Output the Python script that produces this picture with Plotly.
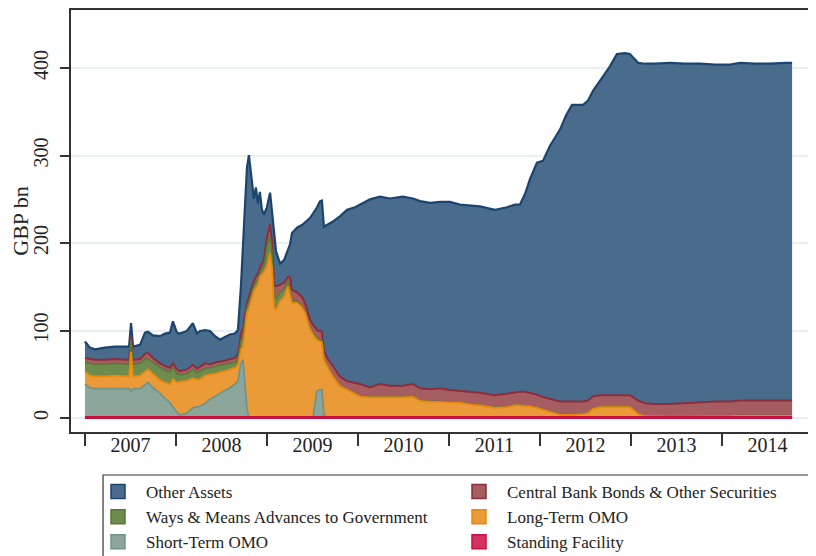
import numpy as np
import plotly.graph_objects as go

dates = [
    "2007-01-01", "2007-01-21", "2007-02-10", "2007-03-22", "2007-05-01", "2007-06-11", "2007-06-27",
    "2007-07-05", "2007-07-13", "2007-08-10", "2007-08-30", "2007-09-11", "2007-10-01", "2007-10-29",
    "2007-11-18", "2007-12-08", "2007-12-20", "2008-01-05", "2008-01-17", "2008-02-14", "2008-03-09",
    "2008-03-26", "2008-04-07", "2008-04-27", "2008-05-17", "2008-06-06", "2008-06-26", "2008-07-16",
    "2008-08-05", "2008-08-25", "2008-09-06", "2008-09-18", "2008-09-26", "2008-10-04", "2008-10-12",
    "2008-10-20", "2008-11-01", "2008-11-09", "2008-11-17", "2008-11-25", "2008-12-03", "2008-12-11",
    "2008-12-19", "2008-12-31", "2009-01-13", "2009-01-21", "2009-01-29", "2009-02-06", "2009-02-22",
    "2009-03-10", "2009-03-26", "2009-04-03", "2009-04-11", "2009-05-01", "2009-05-21", "2009-06-02",
    "2009-06-22", "2009-07-04", "2009-07-20", "2009-08-01", "2009-08-09", "2009-08-17", "2009-08-29",
    "2009-09-22", "2009-10-20", "2009-11-18", "2009-12-20", "2010-01-09", "2010-02-18", "2010-03-30",
    "2010-05-09", "2010-06-30", "2010-08-09", "2010-09-07", "2010-10-17", "2010-11-26", "2011-01-05",
    "2011-02-14", "2011-03-26", "2011-05-05", "2011-07-05", "2011-08-22", "2011-09-23", "2011-10-13",
    "2011-11-02", "2011-11-22", "2011-12-20", "2012-01-13", "2012-02-10", "2012-03-05", "2012-03-22",
    "2012-04-15", "2012-05-09", "2012-06-22", "2012-07-12", "2012-08-01", "2012-08-29", "2012-10-08",
    "2012-11-05", "2012-12-07", "2012-12-27", "2013-01-13", "2013-01-29", "2013-02-26", "2013-04-07",
    "2013-06-06", "2013-08-05", "2013-10-04", "2013-12-04", "2014-02-02", "2014-03-14", "2014-05-13",
    "2014-07-12", "2014-09-11", "2014-10-09",
]

standing_facility = [0.5] * 115

short_term_omo = [
    38, 34, 33, 33, 33, 33, 33, 30, 33, 33, 38, 40, 34, 28, 22, 17, 12, 6, 3, 5, 11,
    12, 13, 16, 21, 24, 28, 31, 34, 38, 42, 62, 66, 40, 10, 0, 0, 0, 0, 0, 0, 0,
    0, 0, 0, 0, 0, 0, 0, 0, 0, 0, 0, 0, 0, 0, 0, 0, 30, 32, 32, 3, 0,
    0, 0, 0, 0, 0, 0, 0, 0, 0, 0, 0, 0, 0, 0, 0, 0, 0, 0, 0, 0, 0,
    0, 0, 0, 0, 0, 0, 0, 0, 0, 0, 0, 0, 0, 0, 0, 0, 0, 0, 0, 0, 0,
    0, 0, 0, 0, 0, 0, 0, 0, 0, 0,
]

long_term_omo = [
    15, 14, 14, 14, 15, 14, 14, 45, 14, 15, 15, 15, 16, 15, 18, 21, 32, 34, 38, 37, 34,
    31, 31, 32, 28, 26, 24, 22, 21, 19, 18, 16, 15, 60, 110, 125, 138, 145, 148, 152, 161, 163,
    166, 173, 188, 170, 125, 123, 133, 138, 150, 140, 131, 131, 126, 120, 101, 95, 59, 55, 54, 63, 59,
    47, 36, 32, 27, 24, 23, 23, 23, 23, 24, 19, 18, 18, 17, 17, 15, 14, 11, 12, 14, 14,
    13, 13, 11, 9, 6, 4, 3, 3, 3, 4, 5, 10, 12, 12, 12, 12, 12, 8, 4, 1.5, 1,
    1, 1, 1, 1, 1.5, 2, 2, 2, 2, 2,
]

ways_means = [
    10, 14, 14, 14, 14, 14, 14, 14, 14, 14, 14, 12, 13, 14, 14, 14, 13, 10, 8, 8, 10,
    8, 9, 8, 8, 8, 8, 8, 7, 6, 6, 10, 11, 8, 6, 7, 6, 6, 7, 6, 5, 6,
    7, 22, 19, 18, 15, 13, 10, 9, 6, 6, 3, 2, 2, 2, 2, 2, 2, 2, 2, 1, 1,
    1, 0.5, 0.4, 0.4, 0.4, 0.4, 0.4, 0.4, 0.4, 0.4, 0.4, 0.4, 0.4, 0.4, 0.4, 0.4, 0.4, 0.4, 0.4, 0.4, 0.4,
    0.4, 0.4, 0.4, 0.4, 0.4, 0.4, 0.4, 0.4, 0.4, 0.4, 0.4, 0.4, 0.4, 0.4, 0.4, 0.4, 0.4, 0.4, 0.4, 0.4, 0.4,
    0.4, 0.4, 0.4, 0.4, 0.4, 0.4, 0.4, 0.4, 0.4, 0.4,
]

cb_bonds_other = [
    5, 5, 5, 5, 5, 5, 5, 5, 5, 5, 6, 7, 5, 5, 5, 5, 5, 5, 4, 5, 5,
    5, 5, 6, 4, 5, 4, 4, 5, 5, 6, 8, 8, 8, 5, 6, 6, 5, 6, 6, 5, 6,
    7, 10, 14, 12, 12, 14, 9, 7, 5, 14, 12, 10, 10, 9, 9, 9, 9, 10, 10, 9, 9,
    11, 10.5, 9, 12, 14, 11, 15, 13, 13, 14, 14, 14, 15, 14, 13, 14, 14, 14, 15, 15, 15,
    16, 15, 15, 14, 15, 15, 15, 15, 15, 14, 14, 14, 13, 13, 13, 13, 13, 14, 15, 14.5, 14,
    14, 15, 16, 17, 16.5, 17, 17, 17, 17, 17,
]

other_assets = [
    19, 13, 12, 14, 14, 15, 15, 14, 15, 16, 24, 24, 26, 31, 37, 40, 48, 42, 43, 44, 48,
    40, 41, 38, 38, 30, 25, 27, 28, 28, 28, 54, 92, 124, 154, 162, 115, 94, 102, 81, 87, 63,
    52, 35, 36, 35, 58, 40, 24, 26, 31, 38, 65, 74, 82, 92, 116, 127, 140, 148, 150, 142, 151,
    165, 183, 196, 201, 205, 215, 214, 214, 216, 212, 214, 213, 213, 215, 213, 213, 213, 212, 213, 214, 214,
    226, 244, 265, 270, 289, 303, 311, 327, 339, 339, 343, 349, 360, 376, 390, 391, 390, 388, 386, 388, 389,
    390, 388, 387, 385, 385, 386, 385, 385, 386, 386,
]

# bottom-to-top stacking order: name, values, fill colour, outline colour, outline width
series = [
    ("Standing Facility", standing_facility, "#d4335f", "#c8103e", 3.0),
    ("Short-Term OMO", short_term_omo, "#8ca69b", "#6f958a", 1.8),
    ("Long-Term OMO", long_term_omo, "#ea9a36", "#e8890c", 1.8),
    ("Ways & Means Advances to Government", ways_means, "#6e8b4e", "#567a35", 1.5),
    ("Central Bank Bonds & Other Securities", cb_bonds_other, "#a65d62", "#8c2d3c", 2.0),
    ("Other Assets", other_assets, "#496c8c", "#1c4470", 2.2),
]

legend_order = ["Other Assets", "Central Bank Bonds & Other Securities",
                "Ways & Means Advances to Government", "Long-Term OMO",
                "Short-Term OMO", "Standing Facility"]

fig = go.Figure()

# stacked filled areas
for name, vals, fill, line, lw in series:
    fig.add_trace(go.Scatter(
        x=dates, y=vals, name=name, stackgroup="one", mode="lines",
        fillcolor=fill, line=dict(color=line, width=0), showlegend=False,
        hoverinfo="x+y+name",
    ))

# outlines of each layer (top layer drawn first so lower outlines stay visible)
tops = np.cumsum(np.array([s[1] for s in series], dtype=float), axis=0)
for i in reversed(range(len(series))):
    name, _, fill, line, lw = series[i]
    fig.add_trace(go.Scatter(
        x=dates, y=tops[i], mode="lines", line=dict(color=line, width=lw),
        showlegend=False, hoverinfo="skip",
    ))

style = {s[0]: (s[2], s[3]) for s in series}
for name in legend_order:
    fill, line = style[name]
    fig.add_trace(go.Scatter(
        x=[None], y=[None], mode="markers", name=name,
        marker=dict(symbol="square", size=14, color=fill, line=dict(color=line, width=1.5)),
        showlegend=True,
    ))

font_family = "Liberation Serif"
W, H = 808, 548
fig.update_layout(
    width=W, height=H,
    margin=dict(l=63, r=0, t=2, b=124),
    paper_bgcolor="white", plot_bgcolor="white",
    font=dict(family=font_family, size=17, color="#222"),
    showlegend=True,
    legend=dict(
        orientation="h", xref="container", yref="container",
        x=82 / W, xanchor="left", y=1 - 466 / H, yanchor="top",
        traceorder="normal", entrywidth=300, entrywidthmode="pixels",
        itemwidth=46, borderwidth=0, bgcolor="rgba(0,0,0,0)",
        font=dict(family=font_family, size=17, color="#222"),
    ),
    shapes=[dict(
        type="rect", xref="paper", yref="paper",
        x0=0.043, x1=0.9987, y0=-0.1019, y1=-0.35,
        line=dict(color="#333", width=1.2), fillcolor="rgba(0,0,0,0)", layer="above",
    )],
    xaxis=dict(
        type="date", range=["2006-11-06", "2015-01-13"],
        tick0="2007-01-01", dtick="M12", tickformat="%Y", ticklabelmode="period",
        ticks="outside", ticklen=12, tickwidth=1.5, tickcolor="#333",
        ticklabelstandoff=-18,
        showline=True, linecolor="#333", linewidth=1.5, mirror=True,
        showgrid=False, zeroline=False,
        tickfont=dict(family=font_family, size=20, color="#222"),
    ),
    yaxis=dict(
        range=[-16, 466.3], tickvals=[0, 100, 200, 300, 400],
        ticks="outside", ticklen=9, tickwidth=1.5, tickcolor="#333", tickangle=-90,
        ticklabelstandoff=4,
        showline=True, linecolor="#333", linewidth=1.5, mirror=False,
        showgrid=True, gridcolor="#e8eff3", gridwidth=2, zeroline=False,
        tickfont=dict(family=font_family, size=20, color="#222"),
        title=dict(text="GBP bn", font=dict(family=font_family, size=22, color="#222"), standoff=0),
    ),
)

fig.write_html("out.html")
